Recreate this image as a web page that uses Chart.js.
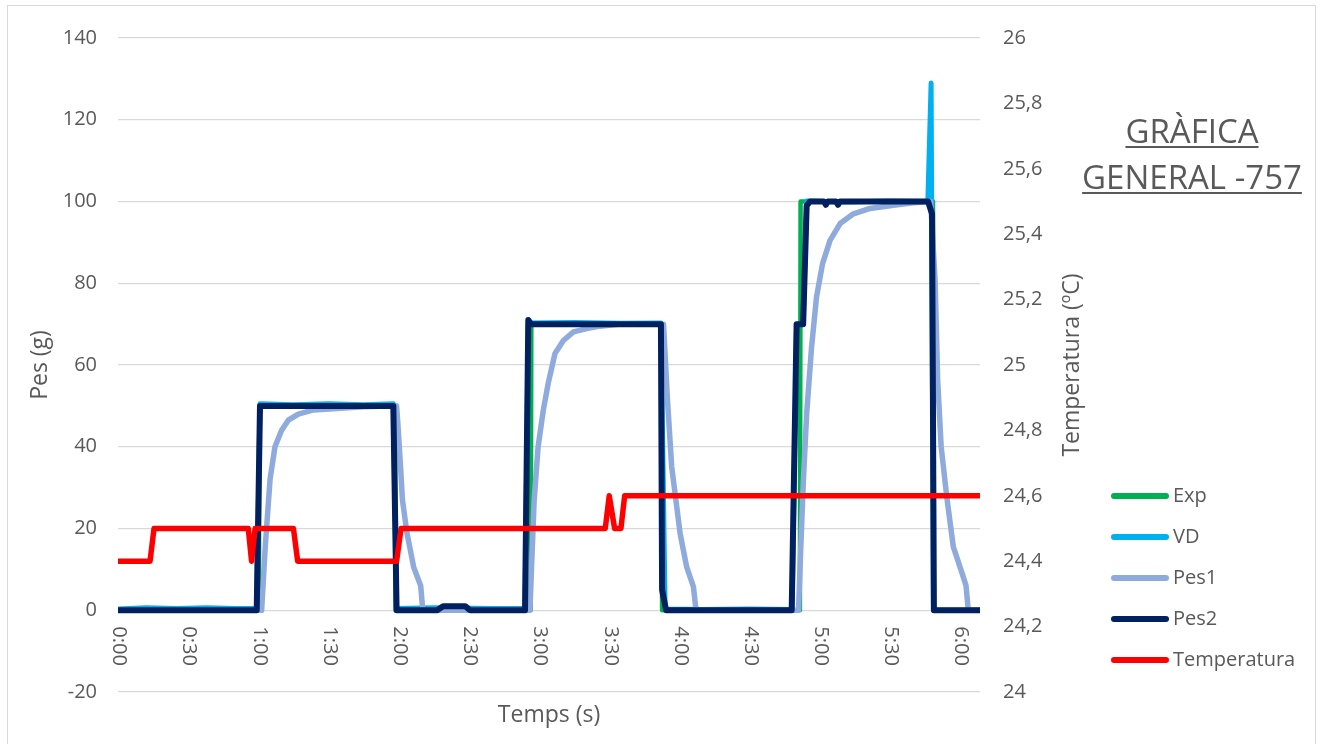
<!DOCTYPE html>
<html>
<head>
<meta charset="utf-8">
<title>Gràfica general -757</title>
<script src="https://cdn.jsdelivr.net/npm/chart.js@4.4.1/dist/chart.umd.min.js"></script>
<style>
  html, body { margin: 0; padding: 0; background: #fff; }
  canvas { display: block; }
</style>
</head>
<body>
<canvas id="myChart" width="1322" height="744"></canvas>
<script>
// dades llegides de la gràfica (temps en segons)
var xTickLabels = ['0:00', '0:30', '1:00', '1:30', '2:00', '2:30', '3:00', '3:30', '4:00', '4:30', '5:00', '5:30', '6:00'];

var expT = [0, 60.2, 60.5, 118.4, 118.7, 176.4, 176.7, 232.3, 232.6, 291.5, 291.8, 348.4, 348.7, 368.5];
var expV = [0, 0, 50, 50, 0, 0, 70, 70, 0, 0, 100, 100, 0, 0];

var vdT = [0, 12, 25, 38, 50, 59.3, 60.7, 75, 90, 105, 117.7, 119.1, 135, 160, 174, 175.4, 195, 215, 232.1, 233.9, 250, 270,
           288.2, 290.1, 292.9, 294.4, 310, 330, 346.2, 347.6, 348.6, 368.5];
var vdV = [0.3, 0.6, 0.4, 0.6, 0.4, 0.4, 50.5, 50.3, 50.5, 50.3, 50.5, 0.4, 0.6, 0.4, 0.5, 70.3, 70.4, 70.2, 70.3, 0.3, 0.2, 0.3,
           0.2, 70, 70, 100.1, 99.9, 100.1, 100, 129, 0, 0];

var pes1T = [0, 61.4, 62.1, 63, 64, 65, 67.1, 69.9, 72.8, 77.1, 83.5, 92, 105, 119.1, 119.6, 120.8, 121.6, 123.5, 126.4, 129.4, 130.3,
             176.1, 176.8, 177.9, 179.6, 181.8, 183.9, 186.8, 190.4, 194.7, 200.4, 206, 215, 233.2, 234.9, 236.7, 240.3, 243.1, 246, 247.1,
             290.9, 291.9, 293, 294.4, 296.5, 298.6, 301.2, 304.4, 308.7, 314.4, 321.5, 331.5, 340, 347.4, 349.3, 350.4, 351.9, 354.3, 357.1, 360.4, 362.5, 363.5, 368.5];
var pes1V = [0, 0, 7, 16, 24, 32, 40, 44, 46.5, 48, 49, 49.3, 49.8, 50, 46, 35, 27, 19, 10.5, 6, 0,
             0, 10.6, 26.9, 40, 48.9, 55.5, 62.8, 66, 68.1, 68.9, 69.5, 70, 70, 51.4, 35.1, 18.8, 10.6, 5.7, 0,
             0, 15.5, 31.8, 48.1, 64.4, 76.6, 84.8, 90.5, 94.6, 97, 98.3, 99.1, 99.7, 100, 80.7, 56.3, 40, 27.7, 15.5, 9.8, 6.1, 0, 0];

var pes2T = [0, 59.3, 60.7, 117.7, 119.1, 136.4, 139, 148.4, 150.5, 174, 175.4, 176.6, 232.1, 232.6, 234.3,
             288, 290.1, 292.9, 294.4, 295.8, 301.8, 302.6, 303.4, 307, 307.8, 308.6, 346.3, 348, 348.8, 368.5];
var pes2V = [0, 0, 50, 50, 0, 0, 1, 1, 0, 0, 71, 70, 70, 5, 0,
             0, 70, 70, 99, 100, 100, 99.2, 100, 100, 99.2, 100, 100, 97, 0, 0];

var tempT = [0, 13.7, 15.4, 55.7, 57.1, 58.6, 75, 76.8, 119.1, 121, 208.3, 210, 212.3, 215, 216.6, 368.5];
var tempV = [24.4, 24.4, 24.5, 24.5, 24.4, 24.5, 24.5, 24.4, 24.4, 24.5, 24.5, 24.6, 24.5, 24.5, 24.6, 24.6];

var FONT = "'Open Sans', 'Noto Sans', sans-serif";
var TEXT_COLOR = '#595959';

function toPoints(ts, vs) {
  return ts.map((t, i) => ({ x: t, y: vs[i] }));
}

function labelToSeconds(label) {
  var parts = label.split(':');
  return parseInt(parts[0]) * 60 + parseInt(parts[1]);
}

// textos, llegenda i marc dibuixats a mà
var chartDecor = {
  id: 'chartDecor',
  beforeDraw: function (chart) {
    var ctx = chart.ctx;
    ctx.save();
    ctx.fillStyle = '#fff';
    ctx.fillRect(0, 0, chart.width, chart.height);
    ctx.strokeStyle = '#D9D9D9';
    ctx.lineWidth = 1;
    ctx.strokeRect(7.5, 5.5, 1308, 760);
    ctx.restore();
  },
  afterDraw: function (chart) {
    var ctx = chart.ctx;
    var area = chart.chartArea;
    var xs = chart.scales.x;
    var ys = chart.scales.y;
    var midY = (area.top + area.bottom) / 2;
    var midX = (area.left + area.right) / 2;

    ctx.save();
    ctx.fillStyle = TEXT_COLOR;

    // etiquetes de l'eix X, girades
    ctx.font = '20px ' + FONT;
    ctx.textAlign = 'left';
    ctx.textBaseline = 'middle';
    var y0 = ys.getPixelForValue(0) + 16;
    xTickLabels.forEach(label => {
      var x = xs.getPixelForValue(labelToSeconds(label));
      ctx.save();
      ctx.translate(x + 1, y0);
      ctx.rotate(Math.PI / 2);
      ctx.fillText(label, 0, 0);
      ctx.restore();
    });

    // títols dels eixos
    ctx.font = '23px ' + FONT;
    ctx.textAlign = 'center';
    ctx.fillText('Temps (s)', midX, 715);

    ctx.save();
    ctx.translate(40, midY);
    ctx.rotate(-Math.PI / 2);
    ctx.fillText('Pes (g)', 0, 0);
    ctx.restore();

    ctx.save();
    ctx.translate(1072, midY);
    ctx.rotate(-Math.PI / 2);
    ctx.fillText('Temperatura (ºC)', 0, 0);
    ctx.restore();

    // títol subratllat
    ctx.font = '33px ' + FONT;
    ctx.textBaseline = 'alphabetic';
    ctx.strokeStyle = TEXT_COLOR;
    ctx.lineWidth = 2;
    [['GRÀFICA', 143], ['GENERAL -757', 189]].forEach(line => {
      var w = ctx.measureText(line[0]).width;
      ctx.fillText(line[0], 1192, line[1]);
      ctx.beginPath();
      ctx.moveTo(1192 - w / 2, line[1] + 4);
      ctx.lineTo(1192 + w / 2, line[1] + 4);
      ctx.stroke();
    });

    // llegenda
    ctx.font = '20px ' + FONT;
    ctx.textAlign = 'left';
    ctx.textBaseline = 'middle';
    ctx.lineCap = 'round';
    ctx.lineWidth = 6;
    chart.data.datasets.forEach((ds, i) => {
      var y = 496 + i * 41;
      ctx.strokeStyle = ds.borderColor;
      ctx.beginPath();
      ctx.moveTo(1114, y);
      ctx.lineTo(1166, y);
      ctx.stroke();
      ctx.fillStyle = TEXT_COLOR;
      ctx.fillText(ds.label, 1173, y);
    });

    ctx.restore();
  }
};

var ctx = document.getElementById('myChart').getContext('2d');
var myChart = new Chart(ctx, {
  type: 'line',
  data: {
    datasets: [
      { label: 'Exp', data: toPoints(expT, expV), borderColor: '#00B050', borderWidth: 4.5, yAxisID: 'y', order: 5 },
      { label: 'VD', data: toPoints(vdT, vdV), borderColor: '#00B0F0', borderWidth: 5, yAxisID: 'y', order: 4 },
      { label: 'Pes1', data: toPoints(pes1T, pes1V), borderColor: '#8FAADC', borderWidth: 5.5, yAxisID: 'y', order: 3 },
      { label: 'Pes2', data: toPoints(pes2T, pes2V), borderColor: '#002060', borderWidth: 6, yAxisID: 'y', order: 2 },
      { label: 'Temperatura', data: toPoints(tempT, tempV), borderColor: '#FF0000', borderWidth: 5.5, yAxisID: 'y1', order: 1 }
    ]
  },
  options: {
    responsive: false,
    animation: false,
    devicePixelRatio: 1,
    layout: { padding: { top: 38, bottom: 52, left: 0, right: 0 } },
    elements: {
      point: { radius: 0, hoverRadius: 0 },
      line: { tension: 0, fill: false, borderJoinStyle: 'round', borderCapStyle: 'round' }
    },
    plugins: {
      legend: { display: false },
      tooltip: { enabled: false }
    },
    scales: {
      x: { type: 'linear', display: false, min: 0, max: 368.5 },
      y: {
        position: 'left',
        min: -20,
        max: 140,
        ticks: { stepSize: 20, color: TEXT_COLOR, font: { family: FONT, size: 20 }, padding: 21 },
        grid: { color: '#D9D9D9', lineWidth: 1.2, drawTicks: false },
        border: { display: false },
        afterFit: function (scale) { scale.width = 118; }
      },
      y1: {
        position: 'right',
        min: 24,
        max: 26,
        ticks: {
          stepSize: 0.2,
          color: TEXT_COLOR,
          font: { family: FONT, size: 20 },
          padding: 23,
          callback: function (value) {
            return (Math.round(value * 10) / 10).toString().replace('.', ',');
          }
        },
        grid: { display: false, drawTicks: false },
        border: { display: false },
        afterFit: function (scale) { scale.width = 342; }
      }
    }
  },
  plugins: [chartDecor]
});
</script>
</body>
</html>
